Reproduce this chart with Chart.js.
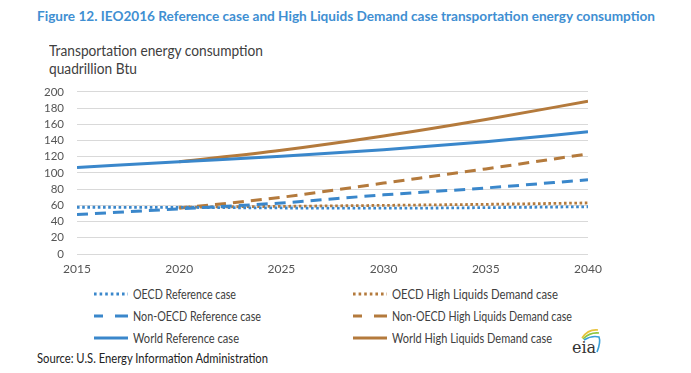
<!DOCTYPE html>
<html><head><meta charset="utf-8">
<script src="https://cdn.jsdelivr.net/npm/chart.js@4/dist/chart.umd.min.js"></script>
<style>
html,body{margin:0;padding:0;background:#fff;width:691px;height:373px;overflow:hidden;font-family:Lato,sans-serif;}
.fit{position:absolute;white-space:nowrap;transform-origin:0 50%;}
#title{left:37px;top:7px;font-weight:bold;font-size:13.6px;color:#3f8fd2;line-height:18px;}
.yt{left:49px;font-size:14.5px;color:#404040;line-height:18px;}
#wrap{position:absolute;left:0;top:72px;width:620px;height:208px;}
.sw{position:absolute;}
.lt{font-size:13px;color:#404040;line-height:16px;}
#source{left:37px;top:351px;font-size:12.5px;color:#222;line-height:16px;}
#logo{position:absolute;left:568px;top:326px;}
</style></head>
<body>
<div id="title" class="fit" data-w="618">Figure 12. IEO2016 Reference case and High Liquids Demand case transportation energy consumption</div>
<div class="fit yt" style="top:42px" data-w="214">Transportation energy consumption</div>
<div class="fit yt" style="top:60px" data-w="88">quadrillion Btu</div>
<div id="wrap"><canvas id="c"></canvas></div>
<div id="legend"></div>
<div id="source" class="fit" data-w="231">Source: U.S. Energy Information Administration</div>
<svg id="logo" width="36" height="32" viewBox="0 0 36 32">
<path d="M14 12 Q20 3 30 4" stroke="#e8c23a" stroke-width="1.6" fill="none"/>
<path d="M15 13 Q22 6 31 7" stroke="#8dc63f" stroke-width="1.6" fill="none"/>
<path d="M16 14 Q24 9 31 11 Q33 16 29 26" stroke="#3aa0d8" stroke-width="1.6" fill="none"/>
<text x="4" y="27" font-family="DejaVu Serif, serif" font-size="16" fill="#333">eia</text>
</svg>
<script>
const years = [2015, 2020, 2025, 2030, 2035, 2040];
const yearsHigh = [2020, 2025, 2030, 2035, 2040];
const oecdRef = [57.7, 57.5, 56.8, 56.5, 57.2, 58.3];
const nonOecdRef = [48.7, 55.7, 63, 73, 81.5, 91.6];
const worldRef = [106.7, 113.7, 120.5, 128.5, 138.5, 150.8];
const oecdHigh = [57.7, 58.8, 60, 61.3, 63];
const nonOecdHigh = [56.5, 70, 87.5, 105, 123.5];
const worldHigh = [113.7, 128, 145.6, 166, 188.5];
const xTicks = [2015, 2020, 2025, 2030, 2035, 2040];
const yTicks = [0, 20, 40, 60, 80, 100, 120, 140, 160, 180, 200];

const BLUE = '#3a87cb', BROWN = '#b47a3c';
const pts = (xs, ys) => xs.map((x, i) => ({x, y: ys[i]}));
const DOT = [2.6, 2.6], DASH = [11, 7];
const datasets = [
  {label:'OECD Reference case', data:pts(years,oecdRef), borderColor:BLUE, borderDash:DOT, borderWidth:2.8},
  {label:'Non-OECD Reference case', data:pts(years,nonOecdRef), borderColor:BLUE, borderDash:DASH, borderWidth:3},
  {label:'World Reference case', data:pts(years,worldRef), borderColor:BLUE, borderDash:[], borderWidth:3},
  {label:'OECD High Liquids Demand case', data:pts(yearsHigh,oecdHigh), borderColor:BROWN, borderDash:DOT, borderWidth:2.8},
  {label:'Non-OECD High Liquids Demand case', data:pts(yearsHigh,nonOecdHigh), borderColor:BROWN, borderDash:DASH, borderWidth:3},
  {label:'World High Liquids Demand case', data:pts(yearsHigh,worldHigh), borderColor:BROWN, borderDash:[], borderWidth:3}
];
datasets.forEach(d => { d.pointRadius = 0; d.fill = false; d.tension = 0.4; d.cubicInterpolationMode = 'monotone'; d.borderCapStyle = 'butt'; });

const chart = new Chart(document.getElementById('c'), {
  type: 'line',
  data: {datasets},
  options: {
    responsive: true, maintainAspectRatio: false, animation: false,
    layout: {padding: {top: 4, right: 32, bottom: 0, left: 0}},
    plugins: {legend: {display: false}, tooltip: {enabled: false}},
    scales: {
      x: {type: 'linear', min: 2015, max: 2040,
          afterBuildTicks: s => { s.ticks = xTicks.map(v => ({value: v})); },
          afterFit: s => { s.height = 26; },
          grid: {display: false, drawTicks: false},
          border: {display: false},
          ticks: {autoSkip: false, color: '#555', font: {family: 'Lato', size: 12}, padding: 8, maxRotation: 0, callback: v => String(v)}},
      y: {min: 0, max: 200,
          afterBuildTicks: s => { s.ticks = yTicks.map(v => ({value: v})); },
          afterFit: s => { s.width = 77; },
          grid: {color: '#d9d9d9', lineWidth: 1, drawTicks: false},
          border: {display: false},
          ticks: {autoSkip: false, color: '#555', font: {family: 'Lato', size: 11.5}, padding: 13}}
    }
  }
});

// HTML legend built from the chart datasets
const legend = document.getElementById('legend');
const rows = [294, 316, 338];
const widths = [103, 128, 106, 166, 180, 160];
chart.data.datasets.forEach((d, i) => {
  const col = i < 3 ? 0 : 1, row = i % 3;
  const swX = col ? 353 : 94, txX = col ? 392 : 133;
  const sw = document.createElementNS('http://www.w3.org/2000/svg', 'svg');
  sw.setAttribute('class', 'sw');
  sw.setAttribute('width', '36'); sw.setAttribute('height', '8');
  sw.style.left = swX + 'px'; sw.style.top = (rows[row] - 4) + 'px';
  let da = '';
  if (d.borderDash === DOT) da = '2.6,3';
  else if (d.borderDash === DASH) da = '9,12,13,0';
  sw.innerHTML = `<line x1="0" y1="4" x2="34" y2="4" stroke="${d.borderColor}" stroke-width="3" ${da ? `stroke-dasharray="${da}"` : ''}/>`;
  legend.appendChild(sw);
  const t = document.createElement('div');
  t.className = 'fit lt';
  t.textContent = d.label;
  t.dataset.w = widths[i];
  t.style.left = txX + 'px'; t.style.top = (rows[row] - 8) + 'px';
  legend.appendChild(t);
});

// scale text boxes horizontally to the reference widths
document.querySelectorAll('.fit').forEach(el => {
  const target = parseFloat(el.dataset.w || 0);
  if (target) el.style.transform = `scaleX(${target / el.getBoundingClientRect().width})`;
});
</script>
</body></html>
